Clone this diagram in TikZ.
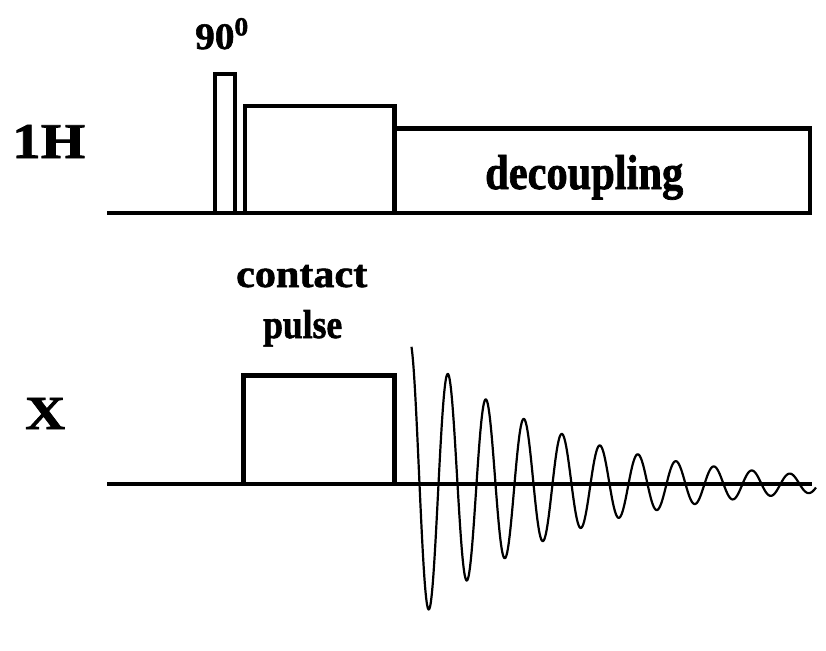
\documentclass[tikz,border=0pt]{standalone}
\usepackage{fontspec}
\setmainfont{Liberation Serif}
\newfontfamily\heavy{Liberation Serif Bold}[RawFeature={embolden=1.5}]
\begin{document}
\begin{tikzpicture}[x=1pt,y=-1pt,
  seq/.style={line width=4.5pt,line cap=butt,line join=miter},
  lbl/.style={inner sep=0pt,anchor=base west,font=\heavy},
  fid/.style={line width=2.2pt,line join=round}]
\useasboundingbox (0,0) rectangle (826,650);
% 1H channel
\coordinate (hA) at (107,213);
\coordinate (hB) at (812,213);
\draw[seq] (hA) -- (hB);
\draw[seq] (215,213) -- (215,74) -- (235,74) -- (235,213);
\draw[seq] (245,213) -- (245,106) -- (394.5,106) -- (394.5,213);
\draw[seq] (394.5,128.5) -- (810,128.5) -- (810,213);
% X channel
\coordinate (xA) at (107,484);
\coordinate (xB) at (812,484);
\draw[seq] (xA) -- (xB);
\draw[seq] (243.5,484) -- (243.5,375.5) -- (394.5,375.5) -- (394.5,484);
% FID
\draw[fid] plot[domain=1.5:406,samples=500,smooth]
  ({410+\x},{484-143*exp(-\x/145)*cos(9.47368*\x)});
% labels
\node[lbl] (h) at (12,158) {\resizebox{73pt}{33pt}{1H}};
\node[lbl] (x) at (25,429) {\resizebox{40pt}{31pt}{X}};
\node[lbl] (p90) at (195,49) {\resizebox{55pt}{31pt}{90\textsuperscript{0}}};
\node[lbl] (dec) at (485,189) {\resizebox{198pt}{34pt}{decoupling}};
\node[lbl] (con) at (236,287) {\resizebox{131pt}{22pt}{contact}};
\node[lbl] (pul) at (263,338) {\resizebox{79pt}{28pt}{pulse}};
\end{tikzpicture}
\end{document}
